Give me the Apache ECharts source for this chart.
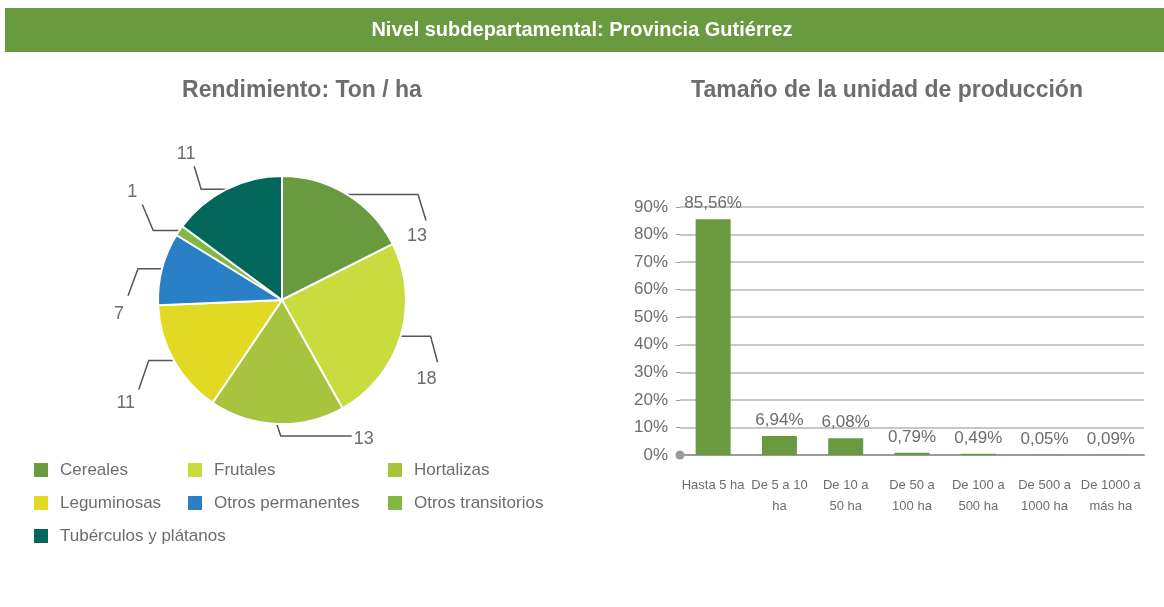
<!DOCTYPE html>
<html>
<head>
<meta charset="utf-8">
<script src="https://cdn.jsdelivr.net/npm/echarts@6/dist/echarts.min.js"></script>
<style>
  html, body { margin: 0; padding: 0; background: #fff; }
  #main { width: 1164px; height: 607px; }
</style>
</head>
<body>
<div id="main"></div>
<script>
// datos del grafico de torta (rendimiento)
var cultivos = ['Cereales', 'Frutales', 'Hortalizas', 'Leguminosas', 'Otros permanentes', 'Otros transitorios', 'Tubérculos y plátanos'];
var rendimiento = [13, 18, 13, 11, 7, 1, 11];
var coloresCultivo = ['#6a9a3f', '#c8dc3f', '#a8c43f', '#e2d925', '#2a80c6', '#80b843', '#03665a'];

// datos del grafico de barras (tamaño de la unidad)
var rangos = ['Hasta 5 ha', 'De 5 a 10\nha', 'De 10 a\n50 ha', 'De 50 a\n100 ha', 'De 100 a\n500 ha', 'De 500 a\n1000 ha', 'De 1000 a\nmás ha'];
var porcentajes = [85.56, 6.94, 6.08, 0.79, 0.49, 0.05, 0.09];
var ticksY = ['0%', '10%', '20%', '30%', '40%', '50%', '60%', '70%', '80%', '90%'];

var gris = '#6d6d6d';
var fuente = 'Liberation Sans';

// lineas guia estilo excel: codo relativo al borde y desplazamiento de la etiqueta
var guias = [
    { p: [[71, 0], [79, 26]], t: [-9, 16] },
    { p: [[30, 0], [37, 26]], t: [-11, 17] },
    { p: [[4, 12], [75, 12]], t: [12, 3] },
    { p: [[-25, 0], [-35, 29]], t: [-13, 14] },
    { p: [[-24, 0], [-34, 27]], t: [-9, 18] },
    { p: [[-26, 0], [-37, -26]], t: [-10, -13] },
    { p: [[-25, 0], [-32, -23]], t: [-8, -12] }
];

var pieData = cultivos.map(function (c, i) {
    return { name: c, value: rendimiento[i], itemStyle: { color: coloresCultivo[i] } };
});

var myChart = echarts.init(document.getElementById('main'));

var option = {
    animation: false,
    textStyle: { fontFamily: fuente },
    graphic: [
        { type: 'rect', shape: { x: 5, y: 8, width: 1159, height: 44 }, style: { fill: '#6a9a3f' } },
        { type: 'text', left: 'center', top: 20, style: { text: 'Nivel subdepartamental: Provincia Gutiérrez', fill: '#fff', font: 'bold 20px "Liberation Sans Narrow", "Liberation Sans"' } }
    ],
    title: [
        { text: 'Rendimiento: Ton / ha', left: 297, top: 74, textAlign: 'center',
          textStyle: { color: gris, fontSize: 23, fontWeight: 'bold', fontFamily: fuente } },
        { text: 'Tamaño de la unidad de producción', left: 882, top: 74, textAlign: 'center',
          textStyle: { color: gris, fontSize: 23, fontWeight: 'bold', fontFamily: fuente } }
    ],
    legend: [
        { data: [cultivos[0], cultivos[3], cultivos[6]], left: 32, top: 461 },
        { data: [cultivos[1], cultivos[4]], left: 186, top: 461 },
        { data: [cultivos[2], cultivos[5]], left: 386, top: 461 }
    ].map(function (l) {
        l.orient = 'vertical';
        l.itemWidth = 16;
        l.itemHeight = 16;
        l.itemGap = 15;
        l.icon = 'rect';
        l.padding = 0;
        l.selectedMode = false;
        l.textStyle = { color: gris, fontSize: 17, fontFamily: fuente, padding: [0, 0, 0, 6] };
        return l;
    }),
    grid: { left: 680, right: 20, top: 207, bottom: 152 },
    xAxis: {
        type: 'category',
        data: rangos,
        axisLine: { lineStyle: { color: '#9a9a9a', width: 2 }, symbol: ['circle', 'none'], symbolSize: [9, 9] },
        axisTick: { show: false },
        axisLabel: { color: gris, fontSize: 13, interval: 0, lineHeight: 21, margin: 20 }
    },
    yAxis: {
        type: 'value',
        min: 0,
        max: 90,
        interval: 10,
        axisLine: { show: false },
        axisTick: { show: true, length: 4, lineStyle: { color: '#9a9a9a' } },
        splitLine: { lineStyle: { color: '#b5b5b5', width: 1.5 } },
        axisLabel: {
            color: gris, fontSize: 17, margin: 12,
            formatter: function (v) { return ticksY[Math.round(v / 10)]; }
        }
    },
    series: [
        {
            type: 'pie',
            center: [282, 300],
            radius: 124,
            startAngle: 90,
            clockwise: true,
            data: pieData,
            itemStyle: { borderColor: '#fff', borderWidth: 2 },
            label: { color: gris, fontSize: 18, formatter: '{c}' },
            labelLine: { show: true, length: 16, length2: 22, lineStyle: { color: '#555', width: 1.5 } },
            labelLayout: function (params) {
                var g = guias[params.dataIndex];
                var s = params.labelLinePoints[0];
                var a = [s[0] + g.p[0][0], s[1] + g.p[0][1]];
                var b = [s[0] + g.p[1][0], s[1] + g.p[1][1]];
                return {
                    x: b[0] + g.t[0],
                    y: b[1] + g.t[1],
                    align: 'center',
                    verticalAlign: 'middle',
                    labelLinePoints: [s, a, b]
                };
            }
        },
        {
            type: 'bar',
            data: porcentajes,
            barWidth: 35,
            itemStyle: { color: '#6a9a3f' },
            label: {
                show: true, position: 'top', color: gris, fontSize: 17, distance: 7,
                formatter: function (p) { return p.value.toFixed(2).replace('.', ',') + '%'; }
            }
        }
    ]
};

myChart.setOption(option);
</script>
</body>
</html>
